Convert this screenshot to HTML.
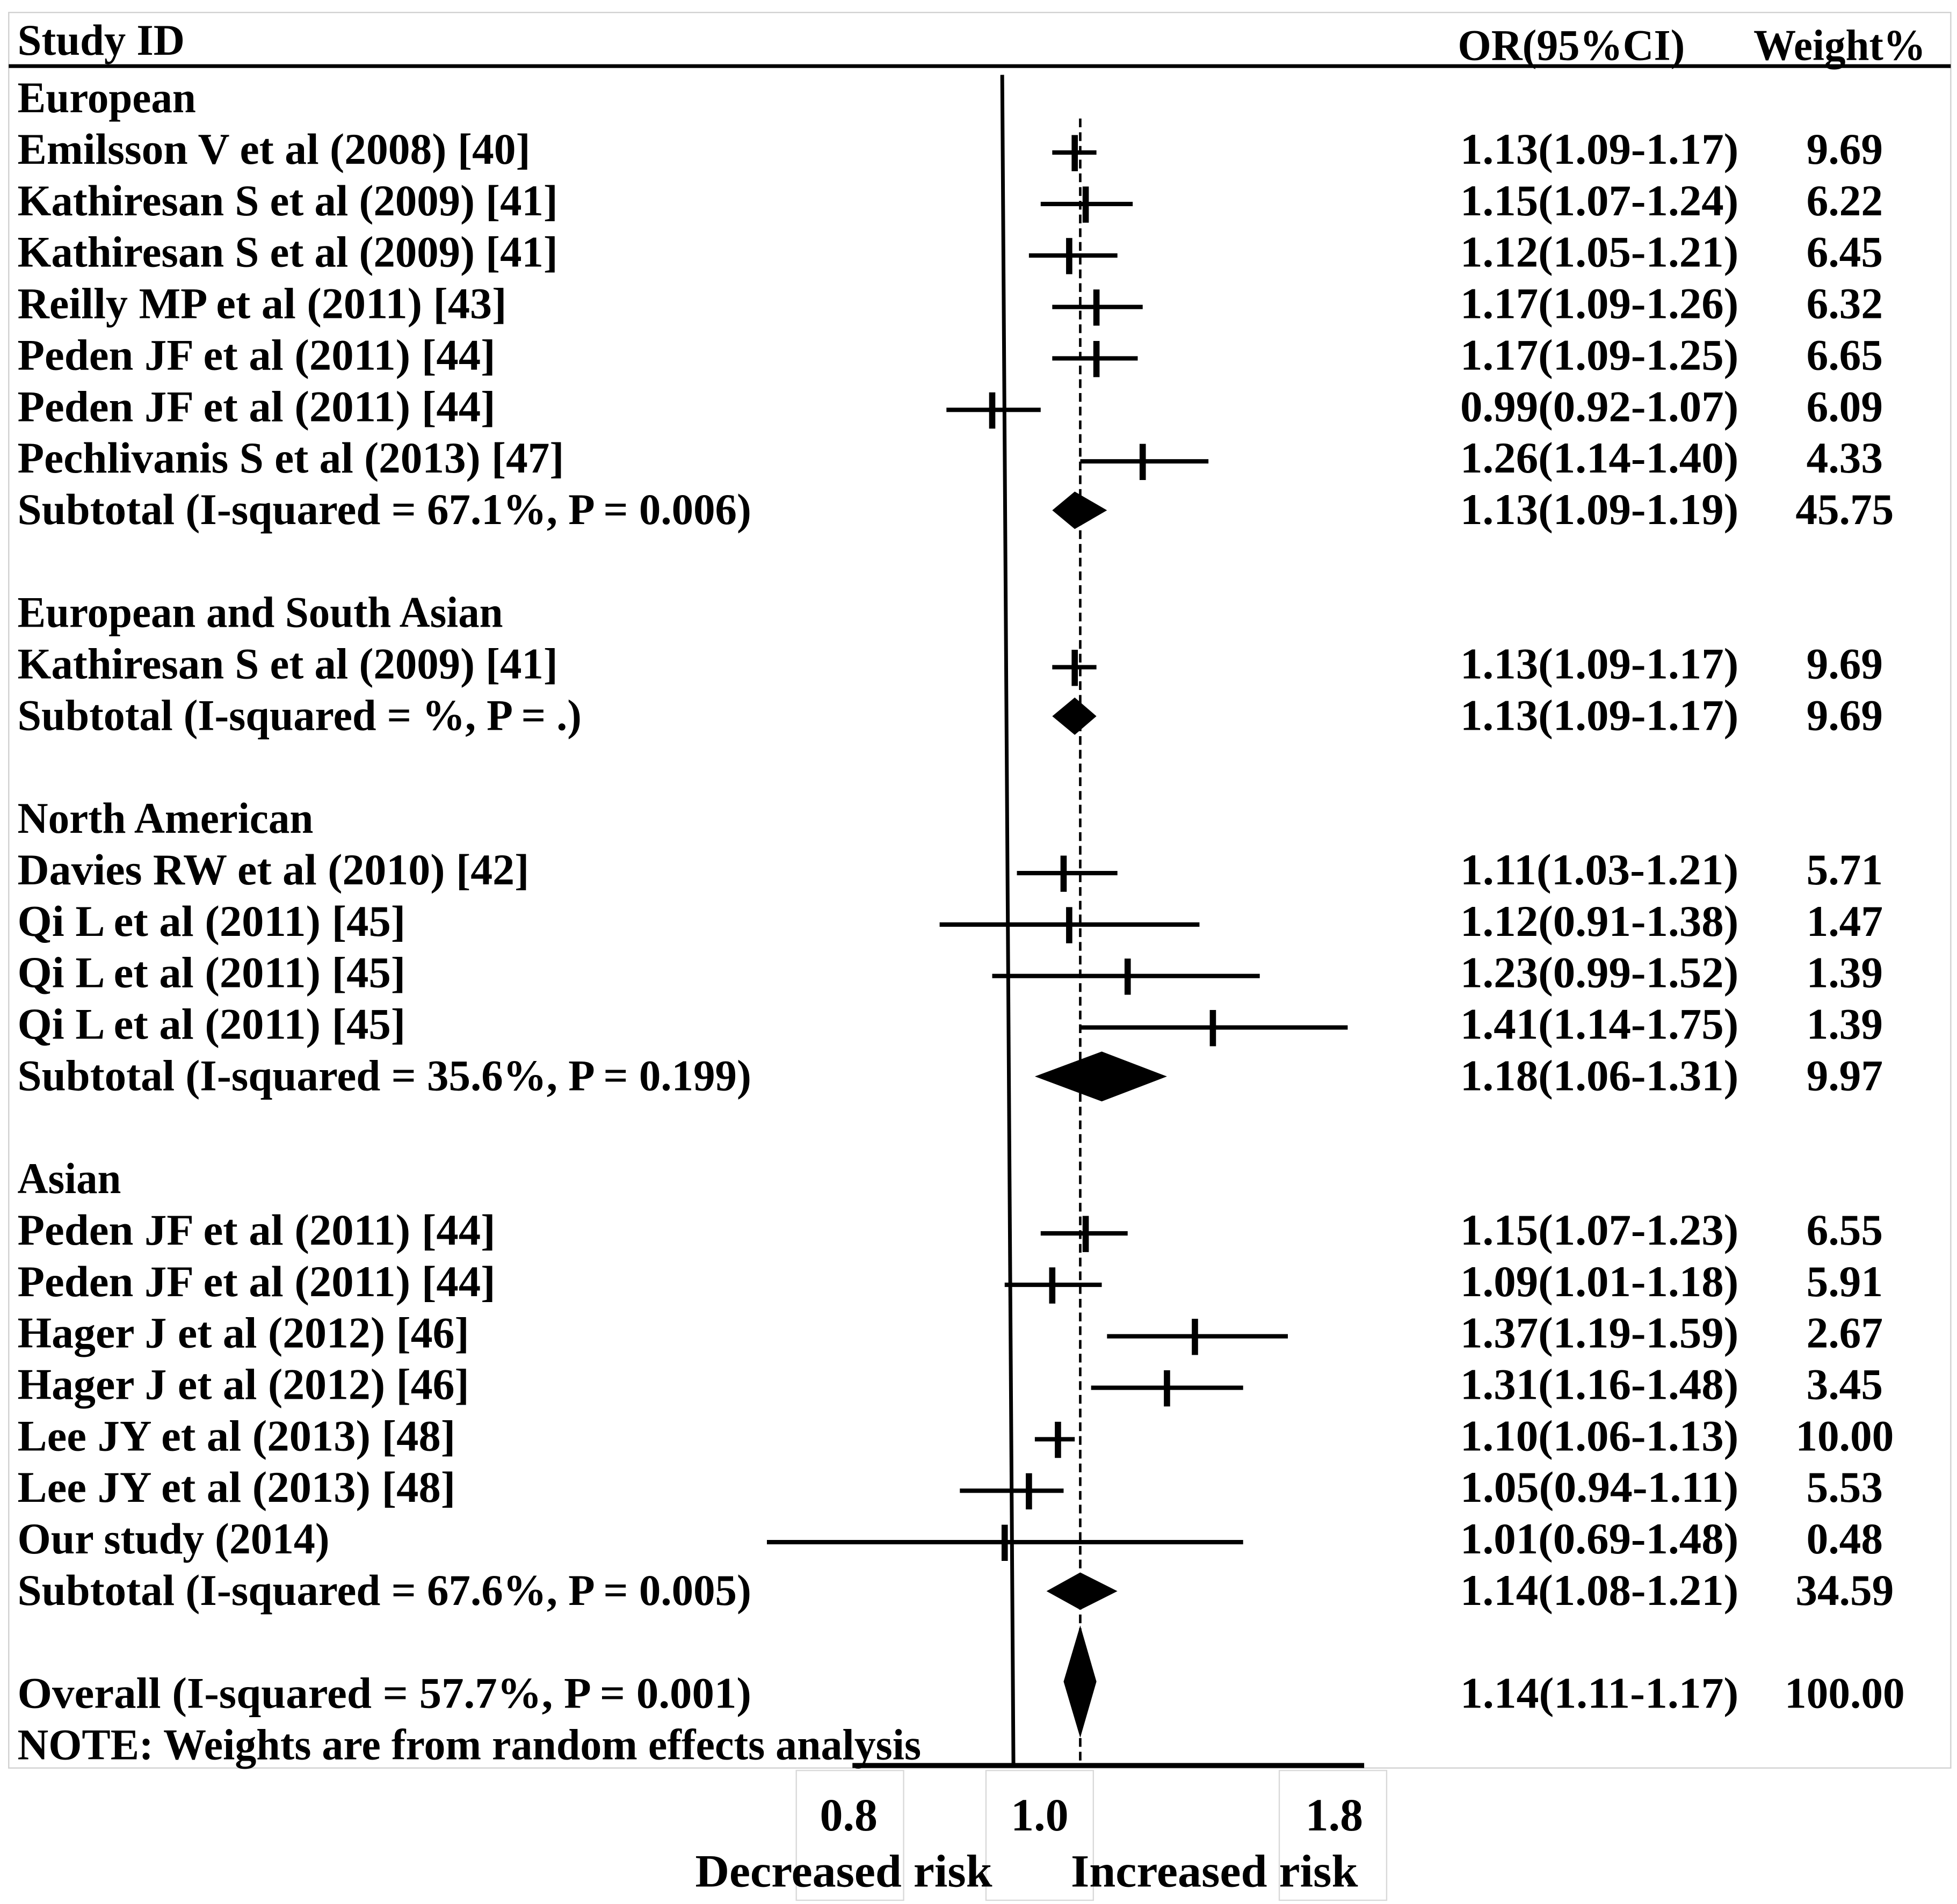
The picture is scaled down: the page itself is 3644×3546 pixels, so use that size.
<!DOCTYPE html>
<html><head><meta charset="utf-8"><style>
html,body{margin:0;padding:0;background:#fff;}
svg{display:block;}
text{font-family:"Liberation Serif",serif;font-weight:bold;fill:#000;}
</style></head><body>
<svg id="chart" width="3644" height="3546" viewBox="0 0 1568 1526" preserveAspectRatio="none" xmlns="http://www.w3.org/2000/svg">
<rect x="7" y="10" width="1556" height="1407" fill="none" stroke="#d0d0d0" stroke-width="1"/>
<g fill="none" stroke="#d8d8d8" stroke-width="1">
<rect x="638" y="1419" width="86" height="104"/><rect x="790" y="1419" width="86" height="104"/><rect x="1025" y="1419" width="86" height="104"/>
</g>
<line x1="7" y1="53" x2="1563" y2="53" stroke="#000" stroke-width="3"/>
<text x="14" y="44" font-size="35" textLength="134" lengthAdjust="spacingAndGlyphs">Study ID</text>
<text x="1168" y="48" font-size="35" textLength="182" lengthAdjust="spacingAndGlyphs">OR(95%CI)</text>
<text x="1405" y="48" font-size="35" textLength="138" lengthAdjust="spacingAndGlyphs">Weight%</text>
<g id="rows"></g>
<g id="marks"></g>
<line x1="683" y1="1415" x2="1093" y2="1415" stroke="#000" stroke-width="4"/>
<line x1="803" y1="60" x2="812" y2="1415" stroke="#000" stroke-width="3"/>
<g id="ticks"></g>
<text x="557" y="1512" font-size="37" textLength="238" lengthAdjust="spacingAndGlyphs">Decreased risk</text>
<text x="858" y="1512" font-size="37" textLength="230" lengthAdjust="spacingAndGlyphs">Increased risk</text>
</svg>
<script>
const labels = ["European","Emilsson V et al (2008) [40]","Kathiresan S et al (2009) [41]","Kathiresan S et al (2009) [41]","Reilly MP et al (2011) [43]","Peden JF et al (2011) [44]","Peden JF et al (2011) [44]","Pechlivanis S et al (2013) [47]","Subtotal (I-squared = 67.1%, P = 0.006)","","European and South Asian","Kathiresan S et al (2009) [41]","Subtotal (I-squared = %, P = .)","","North American","Davies RW et al (2010) [42]","Qi L et al (2011) [45]","Qi L et al (2011) [45]","Qi L et al (2011) [45]","Subtotal (I-squared = 35.6%, P = 0.199)","","Asian","Peden JF et al (2011) [44]","Peden JF et al (2011) [44]","Hager J et al (2012) [46]","Hager J et al (2012) [46]","Lee JY et al (2013) [48]","Lee JY et al (2013) [48]","Our study (2014)","Subtotal (I-squared = 67.6%, P = 0.005)","","Overall  (I-squared = 57.7%, P = 0.001)","NOTE: Weights are from random effects analysis"];
const labelWidths = [143,411,433,433,392,383,383,438,588,0,389,433,452,0,237,410,311,311,311,588,0,83,383,383,362,362,351,351,250,588,0,588,724];
// row type: g=group header, s=study, d=subtotal diamond, o=overall, n=none
const rowTypes = ["g","s","s","s","s","s","s","s","d","n","g","s","d","n","g","s","s","s","s","d","n","g","s","s","s","s","s","s","s","d","n","o","n"];
const orValues = [null,1.13,1.15,1.12,1.17,1.17,0.99,1.26,1.13,null,null,1.13,1.13,null,null,1.11,1.12,1.23,1.41,1.18,null,null,1.15,1.09,1.37,1.31,1.10,1.05,1.01,1.14,null,1.14,null];
const ciLow = [null,1.09,1.07,1.05,1.09,1.09,0.92,1.14,1.09,null,null,1.09,1.09,null,null,1.03,0.91,0.99,1.14,1.06,null,null,1.07,1.01,1.19,1.16,1.06,0.94,0.69,1.08,null,1.11,null];
const ciHigh = [null,1.17,1.24,1.21,1.26,1.25,1.07,1.40,1.19,null,null,1.17,1.17,null,null,1.21,1.38,1.52,1.75,1.31,null,null,1.23,1.18,1.59,1.48,1.13,1.11,1.48,1.21,null,1.17,null];
const weights = [null,"9.69","6.22","6.45","6.32","6.65","6.09","4.33","45.75",null,null,"9.69","9.69",null,null,"5.71","1.47","1.39","1.39","9.97",null,null,"6.55","5.91","2.67","3.45","10.00","5.53","0.48","34.59",null,"100.00",null];
const tickValues = [0.8,1.0,1.8];
const tickLabels = ["0.8","1.0","1.8"];
const tickLabelX = [680,833,1069];
const overallOR = 1.14;

const NS="http://www.w3.org/2000/svg";
function xScale(v){return 800+500*Math.log(v);}
function yRow(i){return 79+i*41.25;}
function mk(tag,attrs,parent){const e=document.createElementNS(NS,tag);for(const k in attrs)e.setAttribute(k,attrs[k]);parent.appendChild(e);return e;}
const rowsG=document.getElementById('rows'), marksG=document.getElementById('marks'), ticksG=document.getElementById('ticks');
function fmt(v){return v.toFixed(2);}

const dl=mk('line',{x1:xScale(overallOR),y1:95,x2:xScale(overallOR),y2:1415,stroke:'#000','stroke-width':2,'stroke-dasharray':'7,4'},marksG);



labels.forEach((lab,i)=>{
  const y=yRow(i);
  if(lab){
    const t=mk('text',{x:14,y:y+11,'font-size':35,textLength:labelWidths[i],lengthAdjust:'spacingAndGlyphs'},rowsG);
    t.textContent=lab;
    
    
  }
  if(orValues[i]!=null){
    const ct=mk('text',{x:1170,y:y+11,'font-size':35,textLength:223,lengthAdjust:'spacingAndGlyphs'},rowsG);
    ct.textContent=fmt(orValues[i])+"("+fmt(ciLow[i])+"-"+fmt(ciHigh[i])+")";
    
    
    const wt=mk('text',{x:1478,y:y+11,'font-size':35,'text-anchor':'middle'},rowsG);
    wt.textContent=weights[i];
    
    
    const xo=xScale(orValues[i]), xl=xScale(ciLow[i]), xh=xScale(ciHigh[i]);
    const ty=rowTypes[i];
    if(ty==='s'){
      const ci=mk('line',{x1:xl,y1:y+2,x2:xh,y2:y+2,stroke:'#000','stroke-width':3.5},marksG);
      
      
      const pt=mk('line',{x1:xo,y1:y-12,x2:xo,y2:y+17,stroke:'#000','stroke-width':5},marksG);
      
      
    } else {
      const h = ty==='o' ? 45 : (i===19 ? 20 : 15);
      const cy = ty==='o' ? y-10 : y;
      const dm=mk('polygon',{points:`${xl},${cy} ${xo},${cy-h} ${xh},${cy} ${xo},${cy+h}`,fill:'#000'},marksG);
      
      
    }
  }
});
tickValues.forEach((v,i)=>{
  const t=mk('text',{x:tickLabelX[i],y:1467,'font-size':37,'text-anchor':'middle'},ticksG);
  t.textContent=tickLabels[i];
  
  
});
</script>
</body></html>
